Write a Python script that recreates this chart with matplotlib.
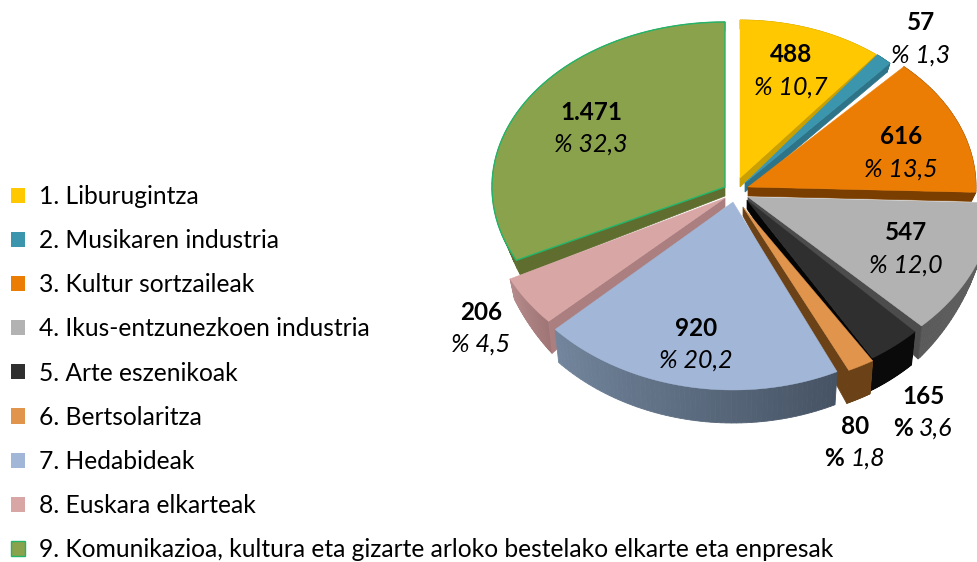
import numpy as np
import matplotlib
matplotlib.use('Agg')
import matplotlib.pyplot as plt
from matplotlib.patches import Patch
from matplotlib.colors import to_rgb

plt.rcParams['font.family'] = ['Lato', 'DejaVu Sans']

sectores = ['1. Liburugintza', '2. Musikaren industria', '3. Kultur sortzaileak',
            '4. Ikus-entzunezkoen industria', '5. Arte eszenikoak', '6. Bertsolaritza',
            '7. Hedabideak', '8. Euskara elkarteak',
            '9. Komunikazioa, kultura eta gizarte arloko bestelako elkarte eta enpresak']
balioak = [488, 57, 616, 547, 165, 80, 920, 206, 1471]
balio_txt = ['488', '57', '616', '547', '165', '80', '920', '206', '1.471']
ehuneko_txt = ['10,7', '1,3', '13,5', '12,0', '3,6', '1,8', '20,2', '4,5', '32,3']

kolore_top = ['#FFC800', '#3A95AD', '#EC7D04', '#B2B2B2', '#2F2F2F', '#E1954C', '#A2B7D8', '#D9A6A6', '#8BA24D']
kolore_ebaki = ['#C9A000', '#2D7488', '#7A3E00', '#4C4C4C', '#050505', '#6B4217', '#5A6A7A', '#AB7F7F', '#5F6E2F']
kolore_ertz_a = ['#C9A000', '#2D7488', '#7A3E00', '#636363', '#0A0A0A', '#6B4217', '#465364', '#A07575', '#5F6E2F']
kolore_ertz_b = ['#C9A000', '#2D7488', '#7A3E00', '#5A5A5A', '#0A0A0A', '#6B4217', '#72859C', '#B58A8A', '#5F6E2F']

# exploded slices, in picture pixels: apex and radii of each one
apex_x = [740, 745, 748, 748, 747, 743, 733, 725, 725]
apex_y = [178, 183, 187, 197, 200, 207, 202, 198, 187]
rad_x = [218, 212, 228, 246, 238, 246, 242, 240, 233]
rad_y = [158, 164, 165, 182, 186, 181, 188, 182, 165]
ordena = [8, 7, 0, 1, 2, 3, 4, 5, 6]

# label centres
val_x = [791, 921, 901, 906, 924, 855, 696, 481, 591]
val_y = [55, 22, 137, 232, 396, 427, 328, 312, 112]
pct_y = [87, 55, 169, 265, 428, 458, 360, 344, 144]


def sakonera(y):
    return np.interp(y, [190, 240, 325], [9, 9, 33])


def behera(x, y, ax_x):
    d = sakonera(y)
    return x - (x - ax_x) * 0.02, y + d


fig = plt.figure(figsize=(9.77, 5.62), dpi=100)
fig.patch.set_facecolor('white')
ax = fig.add_axes([0, 0, 1, 1])
ax.set_xlim(0, 977)
ax.set_ylim(562, 0)
ax.axis('off')

frac = np.cumsum([0] + balioak) / float(sum(balioak))
ang = frac * 2 * np.pi

for i in ordena:
    th = np.linspace(ang[i], ang[i + 1], 60)
    x = apex_x[i] + rad_x[i] * np.sin(th)
    y = apex_y[i] - rad_y[i] * np.cos(th)
    xb, yb = behera(x, y, apex_x[i])
    ca, cb = np.array(to_rgb(kolore_ertz_a[i])), np.array(to_rgb(kolore_ertz_b[i]))
    z = 1 + ordena.index(i)
    # rim, in thin strips so the shade can change along it
    for k in range(len(th) - 1):
        c = ca + (cb - ca) * k / (len(th) - 2)
        ax.fill([x[k], x[k + 1], xb[k + 1], xb[k]], [y[k], y[k + 1], yb[k + 1], yb[k]],
                color=c, linewidth=0.6, zorder=z)
    # only the cut face that looks to the viewer: end edge on the right, start edge on the left
    if i <= 5:
        x0, y0 = x[-1], y[-1]
    elif i >= 7:
        x0, y0 = x[0], y[0]
    else:
        x0 = None
    if x0 is not None:
        x1, y1 = behera(x0, y0, apex_x[i])
        a0, a1 = behera(apex_x[i], apex_y[i], apex_x[i])
        ax.fill([apex_x[i], x0, x1, a0], [apex_y[i], y0, y1, a1], color=kolore_ebaki[i],
                linewidth=0.5, zorder=z)
    ertza = '#22B56A' if i == 8 else kolore_top[i]
    ax.fill(np.r_[apex_x[i], x], np.r_[apex_y[i], y], facecolor=kolore_top[i], edgecolor=ertza,
            linewidth=1.0 if i == 8 else 0.3, zorder=z + 0.5)

for i in range(len(balioak)):
    ax.text(val_x[i], val_y[i], balio_txt[i], fontsize=17.5, fontweight='bold', color='black',
            ha='center', va='center', zorder=30)
    if i in (4, 5):
        # these two have a bold % sign
        ax.text(val_x[i] - 11, pct_y[i], '%', fontsize=17.5, fontweight='bold', ha='right', va='center', zorder=30)
        ax.text(val_x[i] - 5, pct_y[i], ehuneko_txt[i], fontsize=18, style='italic', ha='left', va='center', zorder=30)
    else:
        ax.text(val_x[i], pct_y[i], '% ' + ehuneko_txt[i], fontsize=18, style='italic',
                ha='center', va='center', zorder=30)

eskuak = []
for i in range(len(sectores)):
    ertza = '#22B56A' if i == 8 else kolore_top[i]
    eskuak.append(Patch(facecolor=kolore_top[i], edgecolor=ertza, linewidth=1.0 if i == 8 else 0, label=sectores[i]))
leg = ax.legend(handles=eskuak, loc='upper left', bbox_to_anchor=(11 / 977, 1 - 185 / 562), bbox_transform=ax.transAxes,
                frameon=False, fontsize=17.7, handlelength=0.57, handleheight=0.57, handletextpad=0.57,
                labelspacing=0.86, borderpad=0, borderaxespad=0)
leg.set_zorder(30)

plt.savefig('out.png', dpi=100)
